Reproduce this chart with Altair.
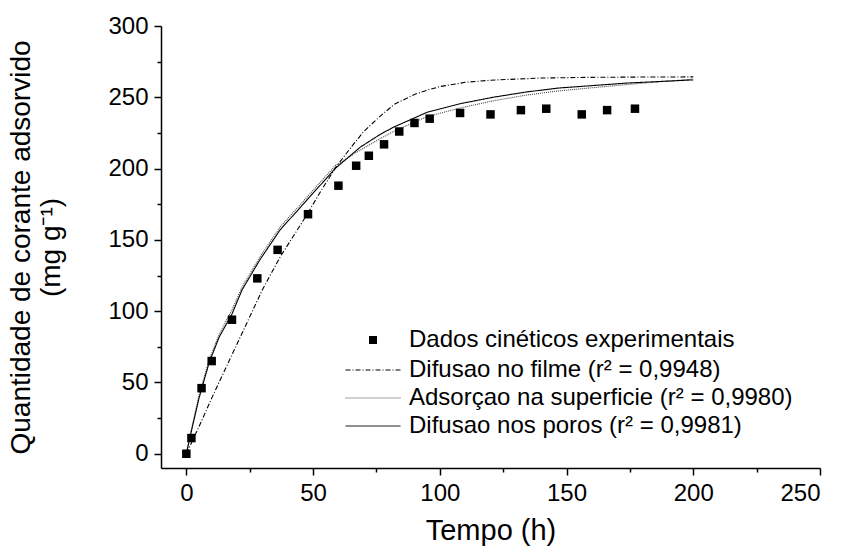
import altair as alt
import pandas as pd

FONT = "Liberation Sans"

# Experimental kinetic data
exp_t = [0, 2, 6, 10, 18, 28, 36, 48, 60, 67, 72, 78, 84, 90, 96, 108, 120, 132, 142, 156, 166, 177]
exp_q = [0, 11, 46, 65, 94, 123, 143, 168, 188, 202, 209, 217, 226, 232, 235, 239, 238, 241, 242, 238, 241, 242]

# Model curves
film_t = [0, 5, 10, 15, 20, 25, 30, 37, 42, 47, 53, 59, 65, 70, 76, 82, 90, 95, 100, 110, 120, 140, 160, 180, 200]
film_q = [0, 19, 39, 58, 77, 96, 115, 138, 152, 166, 184, 201, 215, 226, 236, 245, 252, 255, 257.5, 260.5, 262, 263.5, 264, 264.2, 264.3]

surf_t = [0, 2, 5, 9, 13, 18, 22, 29, 37, 47.6, 58.7, 68.6, 76.5, 81.7, 95, 108, 121, 134, 147, 174, 200]
surf_q = [0, 17, 41, 66, 84, 101, 117, 138, 159, 180, 202, 213, 221, 226, 236.5, 242.5, 247.5, 251.5, 254.5, 259, 262.8]

pore_t = [0, 2, 5, 9, 13, 18, 22, 29, 37, 47.6, 58.7, 68.6, 76.5, 81.7, 95, 108, 121, 134, 147, 174, 200]
pore_q = [0, 16, 39, 64, 82, 98, 115, 136, 157, 178, 200, 215, 224, 229, 239.5, 245.5, 250, 253.7, 256.5, 260, 262.2]

exp_label = "Dados cinéticos experimentais"
model_labels = [
    "Difusao no filme (r² = 0,9948)",
    "Adsorçao na superficie (r² = 0,9980)",
    "Difusao nos poros (r² = 0,9981)",
]

x_major = [0, 50, 100, 150, 200, 250]
x_minor = [25, 75, 125, 175, 225]
y_major = [0, 50, 100, 150, 200, 250, 300]
y_minor = [25, 75, 125, 175, 225, 275]

exp_df = pd.DataFrame({"t": exp_t, "q": exp_q, "serie": exp_label})
lines_df = pd.concat([
    pd.DataFrame({"t": film_t, "q": film_q, "modelo": model_labels[0]}),
    pd.DataFrame({"t": surf_t, "q": surf_q, "modelo": model_labels[1]}),
    pd.DataFrame({"t": pore_t, "q": pore_q, "modelo": model_labels[2]}),
])

xscale = alt.Scale(domain=[-10, 250], nice=False, zero=False)
yscale = alt.Scale(domain=[-10, 300], nice=False, zero=False)

x_axis = alt.Axis(values=x_major, title="Tempo (h)", orient="bottom", tickSize=7,
                  labelPadding=6, titlePadding=11, grid=False)
y_axis = alt.Axis(values=y_major, title=["Quantidade de corante adsorvido", "(mg g⁻¹)"],
                  orient="left", tickSize=7, labelPadding=6, titlePadding=42,
                  titleLineHeight=30, grid=False)

points = alt.Chart(exp_df).mark_point(size=72, color="black", opacity=1, filled=True).encode(
    x=alt.X("t:Q", scale=xscale, axis=x_axis),
    y=alt.Y("q:Q", scale=yscale, axis=y_axis),
    shape=alt.Shape("serie:N", scale=alt.Scale(domain=[exp_label], range=["square"]),
                    legend=alt.Legend(title=None, orient="none", legendX=200, legendY=302,
                                      labelFontSize=24, labelFont=FONT, labelColor="black",
                                      labelLimit=600,
                                      symbolSize=64, symbolFillColor="black",
                                      symbolStrokeColor="black", symbolStrokeWidth=0,
                                      labelOffset=24, padding=0)),
)

line_legend = alt.Legend(title=None, orient="none", legendX=200, legendY=332,
                         labelFontSize=24, labelFont=FONT, labelColor="black", labelLimit=600,
                         symbolType="M-5,0H5", symbolSize=121, symbolStrokeWidth=1,
                         symbolFillColor="transparent", labelOffset=24, rowPadding=4,
                         padding=0)

lines = alt.Chart(lines_df).mark_line(strokeWidth=1.1).encode(
    x=alt.X("t:Q", scale=xscale, axis=None),
    y=alt.Y("q:Q", scale=yscale, axis=None),
    order="t:Q",
    color=alt.Color("modelo:N", sort=model_labels,
                    scale=alt.Scale(domain=model_labels, range=["black", "#444444", "black"]),
                    legend=line_legend),
    strokeDash=alt.StrokeDash("modelo:N", sort=model_labels,
                              scale=alt.Scale(domain=model_labels,
                                              range=[[5, 2, 1, 2], [1, 1], [1, 0]]),
                              legend=line_legend),
)

minor = alt.Chart(exp_df).mark_point(opacity=0).encode(
    x=alt.X("t:Q", scale=xscale,
            axis=alt.Axis(values=x_minor, labels=False, domain=False, tickSize=4,
                          title=None, orient="bottom", grid=False)),
    y=alt.Y("q:Q", scale=yscale,
            axis=alt.Axis(values=y_minor, labels=False, domain=False, tickSize=4,
                          title=None, orient="left", grid=False)),
)

chart = alt.layer(lines, points, minor).resolve_axis(x="independent", y="independent").properties(
    width=659, height=442,
    padding={"left": 161, "top": 26, "right": 22, "bottom": 79},
    autosize=alt.AutoSizeParams(type="none"),
).configure_view(stroke=None).configure_axis(
    domainColor="black", domainWidth=1.5, tickColor="black", tickWidth=1.5,
    labelColor="black", labelFont=FONT, labelFontSize=24,
    titleColor="black", titleFont=FONT, titleFontWeight="normal",
).configure_axisX(titleFontSize=29).configure_axisY(titleFontSize=28)

chart.save("out.html", embed_options={"renderer": "svg", "actions": False})
